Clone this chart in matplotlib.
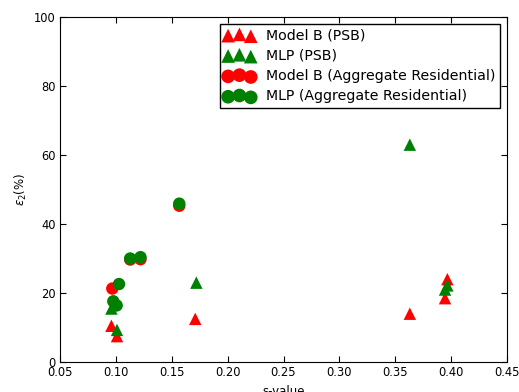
import matplotlib
matplotlib.use("Agg")
import matplotlib.pyplot as plt

# Model B / MLP errors on the PSB set and the aggregate residential set
psb_s_modelb = [0.096, 0.101, 0.171, 0.363, 0.3945, 0.3966]
psb_e_modelb = [10.5, 7.5, 12.5, 14.0, 18.5, 24.0]
psb_s_mlp = [0.096, 0.101, 0.172, 0.363, 0.3945, 0.3966]
psb_e_mlp = [15.5, 9.3, 23.0, 63.0, 21.0, 22.2]

agg_s_modelb = [0.0968, 0.1128, 0.122, 0.1567]
agg_e_modelb = [21.3, 29.7, 29.8, 45.3]
agg_s_mlp = [0.0977, 0.1007, 0.1028, 0.1128, 0.122, 0.1567]
agg_e_mlp = [17.6, 16.4, 22.6, 30.0, 30.4, 45.9]

xticks = [0.05, 0.10, 0.15, 0.20, 0.25, 0.30, 0.35, 0.40, 0.45]
yticks = [0, 20, 40, 60, 80, 100]

fig, ax = plt.subplots(figsize=(5.19, 3.92), dpi=100)
fig.subplots_adjust(left=0.1156, right=0.977, top=0.9566, bottom=0.0765)

ms = 80
ax.scatter(psb_s_modelb, psb_e_modelb, marker="^", s=ms, color="red",
           edgecolors="none", label="Model B (PSB)")
ax.scatter(psb_s_mlp, psb_e_mlp, marker="^", s=ms, color="green",
           edgecolors="none", label="MLP (PSB)")
ax.scatter(agg_s_modelb, agg_e_modelb, marker="o", s=ms, color="red",
           edgecolors="none", label="Model B (Aggregate Residential)")
ax.scatter(agg_s_mlp, agg_e_mlp, marker="o", s=ms, color="green",
           edgecolors="none", label="MLP (Aggregate Residential)")

ax.set_xlim(0.05, 0.45)
ax.set_ylim(0, 100)
ax.set_xticks(xticks)
ax.set_xticklabels([f"{v:.2f}" for v in xticks])
ax.set_yticks(yticks)
ax.tick_params(direction="in", top=True, right=True, labelsize=8.3,
               length=4, pad=3)
ax.set_xlabel("s-value", fontsize=8.5, labelpad=4)
ax.set_ylabel(r"$\epsilon_2$(%)", fontsize=8.5)

leg = ax.legend(loc="upper right", scatterpoints=3, fontsize=10.2,
                fancybox=False, framealpha=1, edgecolor="black",
                borderaxespad=0.5, borderpad=0.3, handlelength=2.2,
                handletextpad=0.8, labelspacing=0.45, markerscale=1.1)
leg.get_frame().set_linewidth(1.0)

fig.savefig("out.png", dpi=100)
